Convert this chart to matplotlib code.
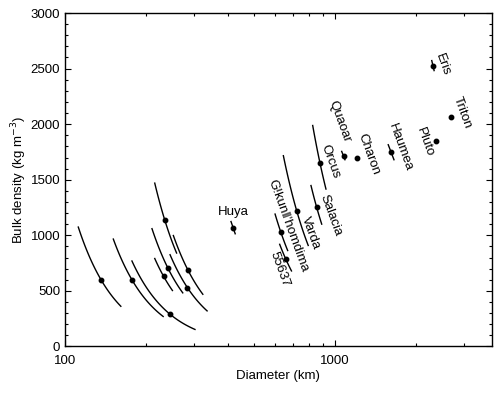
import numpy as np
import matplotlib
matplotlib.use("Agg")
import matplotlib.pyplot as plt
from matplotlib.ticker import FixedLocator, NullFormatter, MultipleLocator

plt.rcParams['font.family'] = ['Liberation Sans', 'DejaVu Sans']

# Unnamed small bodies: diameter, density, curve diameter range (constant-mass curves)
small_D = [136, 177, 245, 234, 240, 232, 285, 284]
small_rho = [600, 600, 290, 1140, 710, 630, 690, 530]
small_Dlo = [112, 151, 177, 215, 210, 215, 252, 245]
small_Dhi = [161, 231, 303, 259, 273, 250, 324, 336]

# Named bodies with constant-mass curves
curve_names = ["Gǃkunǁ'homdima", "55637", "Varda", "Salacia", "Orcus"]
curve_D = [630, 656, 721, 855, 880]
curve_rho = [1029, 791, 1223, 1254, 1650]
curve_Dlo = [600, 624, 644, 815, 827]
curve_Dhi = [668, 690, 796, 893, 926]

# Named bodies with short error segments
seg_names = ["Huya", "Quaoar", "Haumea", "Eris"]
seg_D = [418, 1082, 1607, 2312]
seg_rho = [1070, 1716, 1752, 2527]
seg_D1 = [412, 1059, 1575, 2283]
seg_rho1 = [1124, 1755, 1815, 2572]
seg_D2 = [427, 1089, 1654, 2329]
seg_rho2 = [1014, 1680, 1680, 2482]

# Named bodies without error bars
pt_names = ["Charon", "Pluto", "Triton"]
pt_D = [1203, 2372, 2699]
pt_rho = [1695, 1851, 2061]

# Label positions (data coords)
label_names = ["Eris", "Triton", "Pluto", "Haumea", "Charon", "Quaoar", "Orcus",
               "Salacia", "Varda", "Gǃkunǁ'homdima", "55637", "Huya"]
label_x = [2512, 2954, 2154, 1741, 1336, 1043, 957, 966, 815, 670, 621, 419]
label_y = [2536, 2104, 1842, 1788, 1725, 2022, 1662, 1176, 1023, 1086, 698, 1212]
label_rot = [-70, -70, -70, -70, -70, -70, -70, -70, -70, -70, -70, 0]

fig = plt.figure(figsize=(5.0, 3.94), dpi=100)
ax = fig.add_axes([0.13, 0.1206, 0.853, 0.8464])

lw = 1.0
ms = 3.2

def mass_curve(D0, r0, lo, hi):
    d = np.geomspace(lo, hi, 60)
    return d, r0 * (D0 / d) ** 3

for D0, r0, lo, hi in zip(small_D, small_rho, small_Dlo, small_Dhi):
    d, r = mass_curve(D0, r0, lo, hi)
    ax.plot(d, r, color='black', lw=lw)
    ax.plot([D0], [r0], 'o', color='black', ms=ms)

for D0, r0, lo, hi in zip(curve_D, curve_rho, curve_Dlo, curve_Dhi):
    d, r = mass_curve(D0, r0, lo, hi)
    ax.plot(d, r, color='black', lw=lw)
    ax.plot([D0], [r0], 'o', color='black', ms=ms)

for D0, r0, a1, b1, a2, b2 in zip(seg_D, seg_rho, seg_D1, seg_rho1, seg_D2, seg_rho2):
    ax.plot([a1, a2], [b1, b2], color='black', lw=lw)
    ax.plot([D0], [r0], 'o', color='black', ms=ms)

ax.plot(pt_D, pt_rho, 'o', color='black', ms=ms, ls='none')

for name, x, y, rot in zip(label_names, label_x, label_y, label_rot):
    ax.text(x, y, name, rotation=rot, rotation_mode='anchor', ha='center', va='center',
            fontsize=9.5)

ax.set_xscale('log')
ax.set_xlim(100, 3800)
ax.set_ylim(0, 3000)
ax.xaxis.set_major_locator(FixedLocator([100, 1000]))
ax.xaxis.set_minor_locator(FixedLocator([200, 300, 400, 500, 600, 700, 800, 900, 2000, 3000]))
ax.xaxis.set_minor_formatter(NullFormatter())
ax.set_xticklabels(['100', '1000'])
ax.yaxis.set_major_locator(MultipleLocator(500))
ax.yaxis.set_minor_locator(MultipleLocator(100))
ax.tick_params(which='both', direction='in', top=True, right=True, labelsize=9.5, width=0.8)
ax.tick_params(which='major', length=4.5)
ax.tick_params(which='minor', length=2.5)
ax.tick_params(axis='x', pad=6)
for s in ax.spines.values():
    s.set_linewidth(1.0)

ax.set_xlabel('Diameter (km)', fontsize=9.5, labelpad=2)
ax.set_ylabel('Bulk density (kg m$^{-3}$)', fontsize=9.5, labelpad=1)

fig.savefig('out.png', dpi=100)
